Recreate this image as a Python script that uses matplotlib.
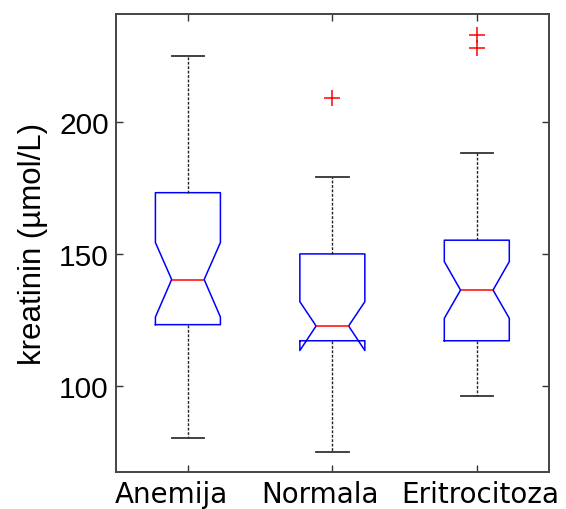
import matplotlib
matplotlib.use("Agg")
import matplotlib.pyplot as plt
from matplotlib.transforms import ScaledTranslation

# values (kreatinin, µmol/L)
groups = ["Anemija", "Normala", "Eritrocitoza"]
q1 = [123.1, 117.0, 117.0]
med = [140.2, 122.6, 136.2]
q3 = [173.1, 149.9, 155.1]
whislo = [80.1, 75.0, 96.2]
whishi = [225.0, 179.2, 188.1]
cilo = [126.0, 113.3, 125.5]
cihi = [154.2, 131.8, 147.0]
fliers = [[], [209.0], [228.0, 233.0]]

stats = []
for i, name in enumerate(groups):
    stats.append(dict(label=name, q1=q1[i], med=med[i], q3=q3[i],
                      whislo=whislo[i], whishi=whishi[i],
                      cilo=cilo[i], cihi=cihi[i], fliers=fliers[i]))

fig = plt.figure(figsize=(5.66, 5.10), dpi=100)
ax = fig.add_axes([0.2044, 0.0732, 0.7656, 0.8974])

positions = [1, 2, 3]
ax.bxp(stats, positions=positions, widths=0.45, shownotches=True,
       boxprops=dict(color="#0000ff", lw=1.1),
       medianprops=dict(color="#ff0000", lw=1.1),
       whiskerprops=dict(color="#222222", lw=1.0, linestyle=(0, (2.0, 1.2))),
       capprops=dict(color="#333333", lw=1.3),
       flierprops=dict(marker="+", markeredgecolor="#ff0000", markersize=12,
                       markeredgewidth=1.1, linestyle="none"))

ax.set_xlim(0.5, 3.5)
ax.set_ylim(67.4, 240.8)
ax.set_yticks([100, 150, 200])
ax.set_xticks(positions)
ax.set_xticklabels([])
for lab in ax.get_yticklabels():
    lab.set_fontsize(21.5)
    lab.set_family("Liberation Sans")
ax.set_ylabel("kreatinin (µmol/L)", fontsize=22.5, family="Liberation Sans",
              labelpad=8)

# group labels in the original sit a bit off their ticks
shifts = [-0.17, -0.12, 0.03]
for pos, name, dx in zip(positions, groups, shifts):
    tr = ax.get_xaxis_transform() + ScaledTranslation(dx, -0.08, fig.dpi_scale_trans)
    ax.text(pos, 0, name, transform=tr, ha="center", va="top",
            fontsize=20, family="DejaVu Sans")

ax.tick_params(direction="in", length=5, width=1, color="#333333",
               top=True, right=True, pad=5)
for s in ax.spines.values():
    s.set_color("#444444")
    s.set_linewidth(1.4)

fig.savefig("out.png", dpi=100)
